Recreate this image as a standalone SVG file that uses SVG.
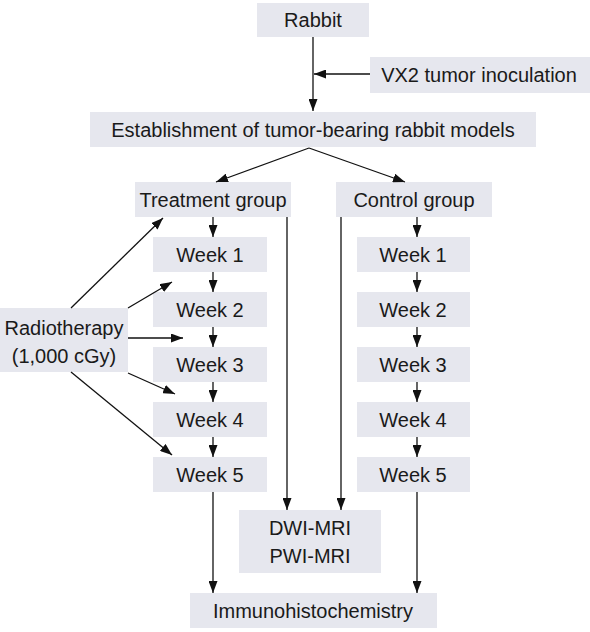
<svg xmlns="http://www.w3.org/2000/svg" width="590" height="632" viewBox="0 0 590 632">
<style>
.box{fill:#e6e7ee}
.t{font-family:"Liberation Sans",Arial,sans-serif;font-size:20px;fill:#1a1a1a;text-anchor:middle}
.c line{stroke:#111;stroke-width:1.3;marker-end:url(#ah)}
</style>
<defs>
<marker id="ah" viewBox="0 0 12 9" refX="12" refY="4.5" markerWidth="12" markerHeight="9" markerUnits="userSpaceOnUse" orient="auto">
<path d="M0,0 L12,4.5 L0,9 Z" fill="#111"/>
</marker>
</defs>
<rect width="590" height="632" fill="#fff"/>
<g id="rabbit"><rect class="box" x="257" y="3" width="112" height="34"/><text class="t" x="313" y="27">Rabbit</text></g>
<g id="vx2"><rect class="box" x="370" y="57" width="220" height="36"/><text class="t" x="479" y="82">VX2 tumor inoculation</text></g>
<g id="establish"><rect class="box" x="90" y="112" width="446" height="35"/><text class="t" x="313" y="137">Establishment of tumor-bearing rabbit models</text></g>
<g id="treatment"><rect class="box" x="135" y="182" width="156" height="35"/><text class="t" x="213" y="207">Treatment group</text></g>
<g id="control"><rect class="box" x="336" y="182" width="156" height="35"/><text class="t" x="414" y="207">Control group</text></g>
<g id="radio"><rect class="box" x="0" y="308" width="128" height="64"/><text class="t" x="64" y="335">Radiotherapy</text><text class="t" x="64" y="363">(1,000 cGy)</text></g>
<g id="t-week1"><rect class="box" x="153" y="237" width="114" height="35"/><text class="t" x="210" y="262">Week 1</text></g>
<g id="t-week2"><rect class="box" x="153" y="292" width="114" height="35"/><text class="t" x="210" y="317">Week 2</text></g>
<g id="t-week3"><rect class="box" x="153" y="347" width="114" height="35"/><text class="t" x="210" y="372">Week 3</text></g>
<g id="t-week4"><rect class="box" x="153" y="402" width="114" height="35"/><text class="t" x="210" y="427">Week 4</text></g>
<g id="t-week5"><rect class="box" x="153" y="457" width="114" height="35"/><text class="t" x="210" y="482">Week 5</text></g>
<g id="c-week1"><rect class="box" x="357" y="237" width="113" height="35"/><text class="t" x="413" y="262">Week 1</text></g>
<g id="c-week2"><rect class="box" x="357" y="292" width="113" height="35"/><text class="t" x="413" y="317">Week 2</text></g>
<g id="c-week3"><rect class="box" x="357" y="347" width="113" height="35"/><text class="t" x="413" y="372">Week 3</text></g>
<g id="c-week4"><rect class="box" x="357" y="402" width="113" height="35"/><text class="t" x="413" y="427">Week 4</text></g>
<g id="c-week5"><rect class="box" x="357" y="457" width="113" height="35"/><text class="t" x="413" y="482">Week 5</text></g>
<g id="mri"><rect class="box" x="239" y="510" width="142" height="63"/><text class="t" x="310" y="535">DWI-MRI</text><text class="t" x="310" y="563">PWI-MRI</text></g>
<g id="immuno"><rect class="box" x="190" y="593" width="247" height="35"/><text class="t" x="313" y="618">Immunohistochemistry</text></g>
<g id="connectors" class="c">
<line x1="313" y1="37" x2="313" y2="111"/>
<line x1="370" y1="74" x2="314" y2="74"/>
<line x1="309" y1="148" x2="216" y2="182"/>
<line x1="309" y1="148" x2="405" y2="182"/>
<line x1="213" y1="217" x2="213" y2="237"/>
<line x1="213" y1="272" x2="213" y2="292"/>
<line x1="213" y1="327" x2="213" y2="347"/>
<line x1="213" y1="382" x2="213" y2="402"/>
<line x1="213" y1="437" x2="213" y2="457"/>
<line x1="417" y1="217" x2="417" y2="237"/>
<line x1="417" y1="272" x2="417" y2="292"/>
<line x1="417" y1="327" x2="417" y2="347"/>
<line x1="417" y1="382" x2="417" y2="402"/>
<line x1="417" y1="437" x2="417" y2="457"/>
<line x1="71" y1="308" x2="163" y2="218"/>
<line x1="128" y1="308" x2="172" y2="282"/>
<line x1="128" y1="338" x2="183" y2="338"/>
<line x1="128" y1="373" x2="175" y2="394"/>
<line x1="71" y1="372" x2="172" y2="455"/>
<line x1="287" y1="217" x2="287" y2="510"/>
<line x1="341" y1="217" x2="341" y2="510"/>
<line x1="213" y1="492" x2="213" y2="593"/>
<line x1="417" y1="492" x2="417" y2="593"/>
</g>
</svg>
